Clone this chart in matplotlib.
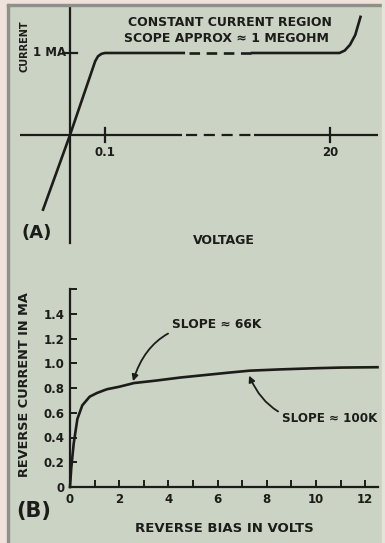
import matplotlib
matplotlib.use("Agg")
import matplotlib.pyplot as plt
from matplotlib.patches import Rectangle

W, H = 385, 543
ink = "#1c1c1a"
paper = "#cbd3c4"

plt.rcParams['font.family'] = ['DejaVu Sans']
plt.rcParams['font.weight'] = 'bold'

# panel A: schematic I-V curve (x in schematic units, 0.1 V at 1, 20 V at 7.43)
a_rise_x = [-0.77, 0.0, 0.72, 0.80, 0.90, 1.0, 3.25]
a_rise_y = [-0.91, 0.0, 0.90, 0.96, 0.99, 1.0, 1.0]
a_gap_x = [3.4, 5.2]
a_gap_y = [1.0, 1.0]
a_tail_x = [5.2, 7.7, 7.85, 8.0, 8.15, 8.3]
a_tail_y = [1.0, 1.0, 1.03, 1.10, 1.22, 1.44]
a_ticks = [1.0, 7.43]
a_tick_labels = ["0.1", "20"]
a_ma = 1.0

# panel B: reverse current vs reverse bias
b_volts = [0.0, 0.05, 0.15, 0.3, 0.5, 0.8, 1.1, 1.5, 2.0, 2.6, 3.5, 4.5,
           5.5, 6.5, 7.3, 8.5, 10.0, 11.0, 12.5]
b_ma = [0.0, 0.15, 0.35, 0.55, 0.66, 0.73, 0.76, 0.79, 0.81, 0.84, 0.86,
        0.885, 0.905, 0.925, 0.94, 0.95, 0.96, 0.965, 0.968]
b_xticks = list(range(0, 13))
b_yticks = [0.0, 0.2, 0.4, 0.6, 0.8, 1.0, 1.2, 1.4, 1.6]
b_ylabels = ["0", "0.2", "0.4", "0.6", "0.8", "1.0", "1.2", "1.4", ""]

fig = plt.figure(figsize=(W / 100, H / 100), dpi=100)
fig.patch.set_facecolor(paper)

# worn page edge
fig.patches.append(Rectangle((0, 0), 7 / W, 1, transform=fig.transFigure, color="#eee2da", zorder=0))
fig.patches.append(Rectangle((0, 1 - 4 / H), 1, 4 / H, transform=fig.transFigure, color="#eee2da", zorder=0))
fig.patches.append(Rectangle((7 / W, 0), 1.5 / W, 1 - 4 / H, transform=fig.transFigure, color="#8e9089", zorder=0))
fig.patches.append(Rectangle((7 / W, 1 - 5.5 / H), 1 - 7 / W, 1.5 / H, transform=fig.transFigure, color="#8e9089", zorder=0))
fig.patches.append(Rectangle((1 - 3 / W, 0), 3 / W, 1, transform=fig.transFigure, color="#e2e4da", zorder=0))


def px(x, y):
    return x / W, 1 - y / H


# ---- panel A ----
axA = fig.add_axes([0, (H - 270) / H, 1, 270 / H])
axA.set_xlim(-2, 9)
axA.set_ylim(-1.646, 1.646)
axA.axis("off")
lw = 1.9
axA.plot([-1.43, 3.2], [0, 0], color=ink, lw=1.6, solid_capstyle="butt")
axA.plot([3.3, 5.25], [0, 0], color=ink, lw=1.6, dashes=(5, 3))
axA.plot([5.25, 8.8], [0, 0], color=ink, lw=1.6, solid_capstyle="butt")
axA.plot([0, 0], [-1.32, 1.59], color=ink, lw=1.6)
for t in a_ticks:
    axA.plot([t, t], [-0.08, 0.08], color=ink, lw=1.6)
axA.plot([-0.2, 0.2], [a_ma, a_ma], color=ink, lw=1.6)
axA.plot(a_rise_x, a_rise_y, color=ink, lw=lw, solid_joinstyle="round")
axA.plot(a_gap_x, a_gap_y, color=ink, lw=lw, dashes=(4, 2.5))
axA.plot(a_tail_x, a_tail_y, color=ink, lw=lw, solid_joinstyle="round")
for t, lab in zip(a_ticks, a_tick_labels):
    axA.text(t, -0.21, lab, ha="center", va="center", fontsize=8.5, color=ink)
axA.text(-0.1, a_ma, "1 MA", ha="right", va="center", fontsize=8.5, color=ink)

fig.text(*px(230, 22), "CONSTANT CURRENT REGION", ha="center", va="center", fontsize=9, color=ink)
fig.text(*px(226, 38), "SCOPE APPROX \u2248 1 MEGOHM", ha="center", va="center", fontsize=9, color=ink)
fig.text(*px(25, 46), "CURRENT", ha="center", va="center", rotation=90, fontsize=7, color=ink)
fig.text(*px(224, 240), "VOLTAGE", ha="center", va="center", fontsize=9, color=ink)
fig.text(*px(37, 233), "(A)", ha="center", va="center", fontsize=13, color=ink)

# ---- panel B ----
axB = fig.add_axes([70 / W, (H - 487) / H, (378 - 70) / W, (487 - 289) / H])
axB.set_facecolor("none")
axB.set_xlim(0, 12.52)
axB.set_ylim(0, 1.6)
for s in ["top", "right"]:
    axB.spines[s].set_visible(False)
for s in ["left", "bottom"]:
    axB.spines[s].set_linewidth(1.6)
    axB.spines[s].set_color(ink)
axB.set_xticks(b_xticks)
axB.set_xticklabels([str(v) if v % 2 == 0 else "" for v in b_xticks])
axB.set_yticks(b_yticks)
axB.set_yticklabels(b_ylabels)
axB.tick_params(direction="in", length=5, width=1.4, colors=ink, labelsize=8.5, pad=4)
axB.plot(b_volts, b_ma, color=ink, lw=lw, clip_on=False, solid_joinstyle="round")

axB.annotate("SLOPE \u2248 66K", xy=(2.56, 0.855), xytext=(4.15, 1.31),
             ha="left", va="center", fontsize=8.8, color=ink,
             arrowprops=dict(arrowstyle="-|>", color=ink, lw=1.3, mutation_scale=9,
                             connectionstyle="arc3,rad=0.4", shrinkA=1, shrinkB=0))
axB.annotate("SLOPE \u2248 100K", xy=(7.28, 0.90), xytext=(8.62, 0.556),
             ha="left", va="center", fontsize=8.6, color=ink,
             arrowprops=dict(arrowstyle="-|>", color=ink, lw=1.3, mutation_scale=9,
                             connectionstyle="arc3,rad=-0.4", shrinkA=1, shrinkB=0))

fig.text(*px(25, 385), "REVERSE CURRENT IN MA", ha="center", va="center", rotation=90, fontsize=9.3, color=ink)
fig.text(*px(224, 528), "REVERSE BIAS IN VOLTS", ha="center", va="center", fontsize=9.5, color=ink)
fig.text(*px(34, 511), "(B)", ha="center", va="center", fontsize=15, color=ink)

fig.savefig("out.png", dpi=100, facecolor=paper)
